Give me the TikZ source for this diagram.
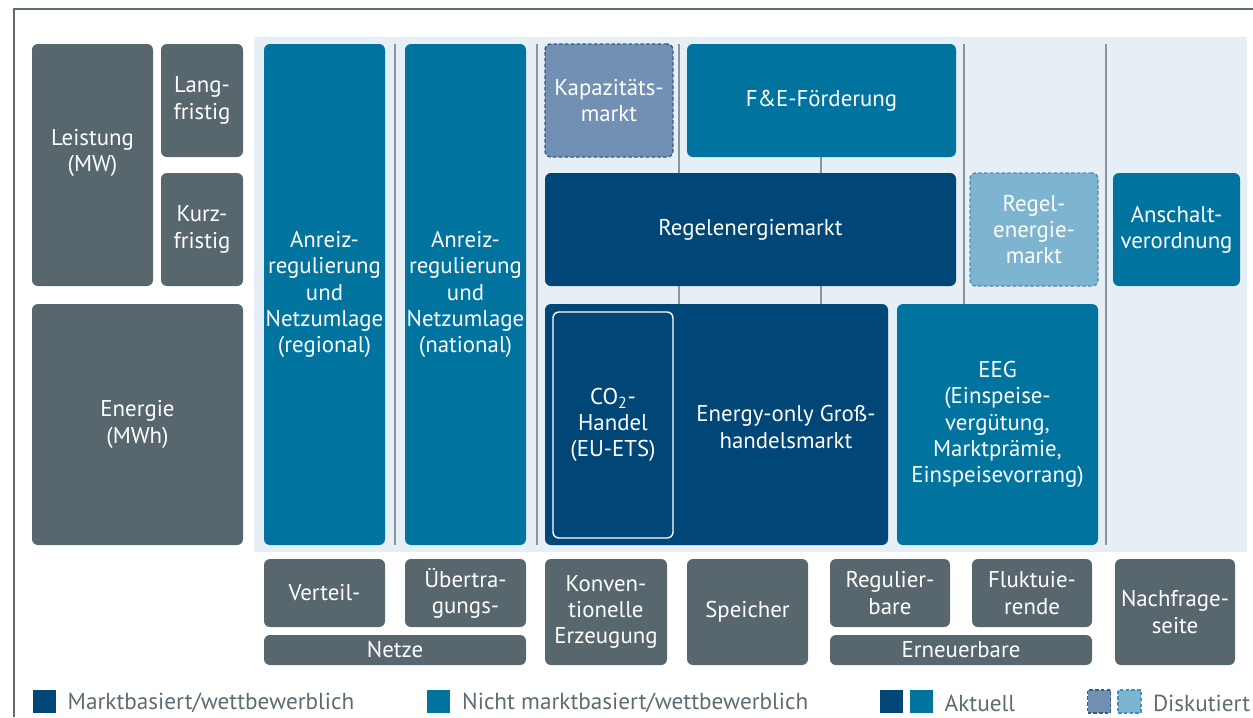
\documentclass[tikz,border=0pt]{standalone}
\usepackage{fontspec}
\setmainfont{PT Sans}
\usetikzlibrary{positioning}
\definecolor{grau}{HTML}{58666E}
\definecolor{mblau}{HTML}{00749F}
\definecolor{dblau}{HTML}{004677}
\definecolor{dkblau}{HTML}{7190B4}
\definecolor{dkrand}{HTML}{3A5A85}
\definecolor{hkblau}{HTML}{7DB4D0}
\definecolor{hkrand}{HTML}{4A8FB6}
\definecolor{panel}{HTML}{E6EEF6}
\definecolor{linie}{HTML}{8A959B}
\definecolor{legtext}{HTML}{5D6B73}
\newcommand\boxfont{\fontsize{13}{15}\selectfont}
\newcommand\legfont{\fontsize{13.2}{15}\selectfont}
\tikzset{
  feld/.style={rounded corners=3.4pt,inner sep=0pt,align=center,text=white,font=\boxfont},
  sz/.style 2 args={minimum width=#1*0.02cm,minimum height=#2*0.02cm},
  txt/.style={inner sep=0pt,align=center,text=white,font=\boxfont},
  disk/.style={draw,line width=0.8pt,dash pattern=on 2pt off 1.3pt},
  trenn/.style={draw=linie,line width=0.9pt},
  lq/.style={inner sep=0pt,minimum size=23*0.02cm},
  lt/.style={inner sep=0pt,anchor=west,text=legtext,font=\legfont,yshift=-1pt},
}
\begin{document}
\begin{tikzpicture}[x=0.02cm,y=-0.02cm]
\useasboundingbox (0,0) rectangle (1253,717);
\draw[draw=legtext,line width=1pt] (1253,9) -- (14,9) -- (14,717);
\fill[panel] (254,37) rectangle (1247,552);
\foreach \lx in {395,537,679,821,964,1106}
  \draw[trenn] (\lx,44) -- (\lx,545);

\node[feld,sz={121}{242},fill=grau] (leistung) at (92.5,165) {};
\node[txt] (leistungtxt) at ([yshift=6.8pt]leistung.center) {Leistung\\(MW)};
\node[feld,sz={82}{113},fill=grau] (lang) at (202,100.5) {Lang-\\fristig};
\node[feld,sz={82}{113},fill=grau] (kurz) at (202,229.5) {Kurz-\\fristig};
\node[feld,sz={211}{241},fill=grau] (energie) at (137.5,424.5) {Energie\\(MWh)};

\node[feld,sz={121}{501},fill=mblau] (anreizreg) at (324.5,294.5) {Anreiz-\\regulierung\\und\\Netzumlage\\(regional)};
\node[feld,sz={121}{501},fill=mblau] (anreiznat) at (465.5,294.5) {Anreiz-\\regulierung\\und\\Netzumlage\\(national)};

\node[feld,sz={128}{113},fill=dkblau,disk,draw=dkrand] (kapa) at (609,100.5) {Kapazitäts-\\markt};
\node[feld,sz={269}{113},fill=mblau] (fue) at (821.5,100.5) {F\&E-Förderung};
\node[feld,sz={411}{113},fill=dblau] (regel) at (750.5,229.5) {Regelenergiemarkt};
\node[feld,sz={128}{113},fill=hkblau,disk,draw=hkrand] (regeldisk) at (1034,229.5) {Regel-\\energie-\\markt};
\node[feld,sz={127}{113},fill=mblau] (anschalt) at (1176.5,229.5) {Anschalt-\\verordnung};

\node[feld,sz={343}{241},fill=dblau] (gross) at (716.5,424.5) {};
\node[txt] (grosstxt) at (786,427) {Energy-only Groß-\\handelsmarkt};
\node[feld,sz={120}{226},fill=dblau,draw=white,line width=0.8pt] (co2) at (613,425) {CO\textsubscript{2}-\\Handel\\(EU-ETS)};
\node[feld,sz={201}{241},fill=mblau] (eeg) at (997.5,424.5) {EEG\\(Einspeise-\\vergütung,\\Marktprämie,\\Einspeisevorrang)};

\node[feld,sz={121}{68},fill=grau] (verteil) at (324.5,593) {Verteil-};
\node[feld,sz={121}{68},fill=grau] (uebertr) at (465.5,593) {Übertra-\\gungs-};
\node[feld,sz={262}{30},fill=grau] (netze) at (395,650) {Netze};
\node[feld,sz={122}{106},fill=grau] (konv) at (606,612) {Konven-\\tionelle\\Erzeugung};
\node[feld,sz={121}{106},fill=grau] (speicher) at (747.5,612) {Speicher};
\node[feld,sz={120}{68},fill=grau] (regulier) at (890,593) {Regulier-\\bare};
\node[feld,sz={120}{68},fill=grau] (fluktu) at (1032,593) {Fluktuie-\\rende};
\node[feld,sz={262}{30},fill=grau] (erneuer) at (961,650) {Erneuerbare};
\node[feld,sz={120}{106},fill=grau] (nachfrage) at (1175,612) {Nachfrage-\\seite};

\node[lq,fill=dblau] (lq1) at (44.5,701.5) {};
\node[lt,right=0.22cm of lq1] (lt1) {Marktbasiert/wettbewerblich};
\node[lq,fill=mblau] (lq2) at (438,701.5) {};
\node[lt,right=0.24cm of lq2] (lt2) {Nicht marktbasiert/wettbewerblich};
\node[lq,fill=dblau] (lq3) at (891.5,701.5) {};
\node[lq,fill=mblau] (lq4) at (921.5,701.5) {};
\node[lt,right=0.22cm of lq4] (lt3) {Aktuell};
\node[lq,fill=dkblau,disk,draw=dkrand] (lq5) at (1099,701.5) {};
\node[lq,fill=hkblau,disk,draw=hkrand] (lq6) at (1129.5,701.5) {};
\node[lt,right=0.22cm of lq6] (lt4) {Diskutiert};
\end{tikzpicture}
\end{document}
